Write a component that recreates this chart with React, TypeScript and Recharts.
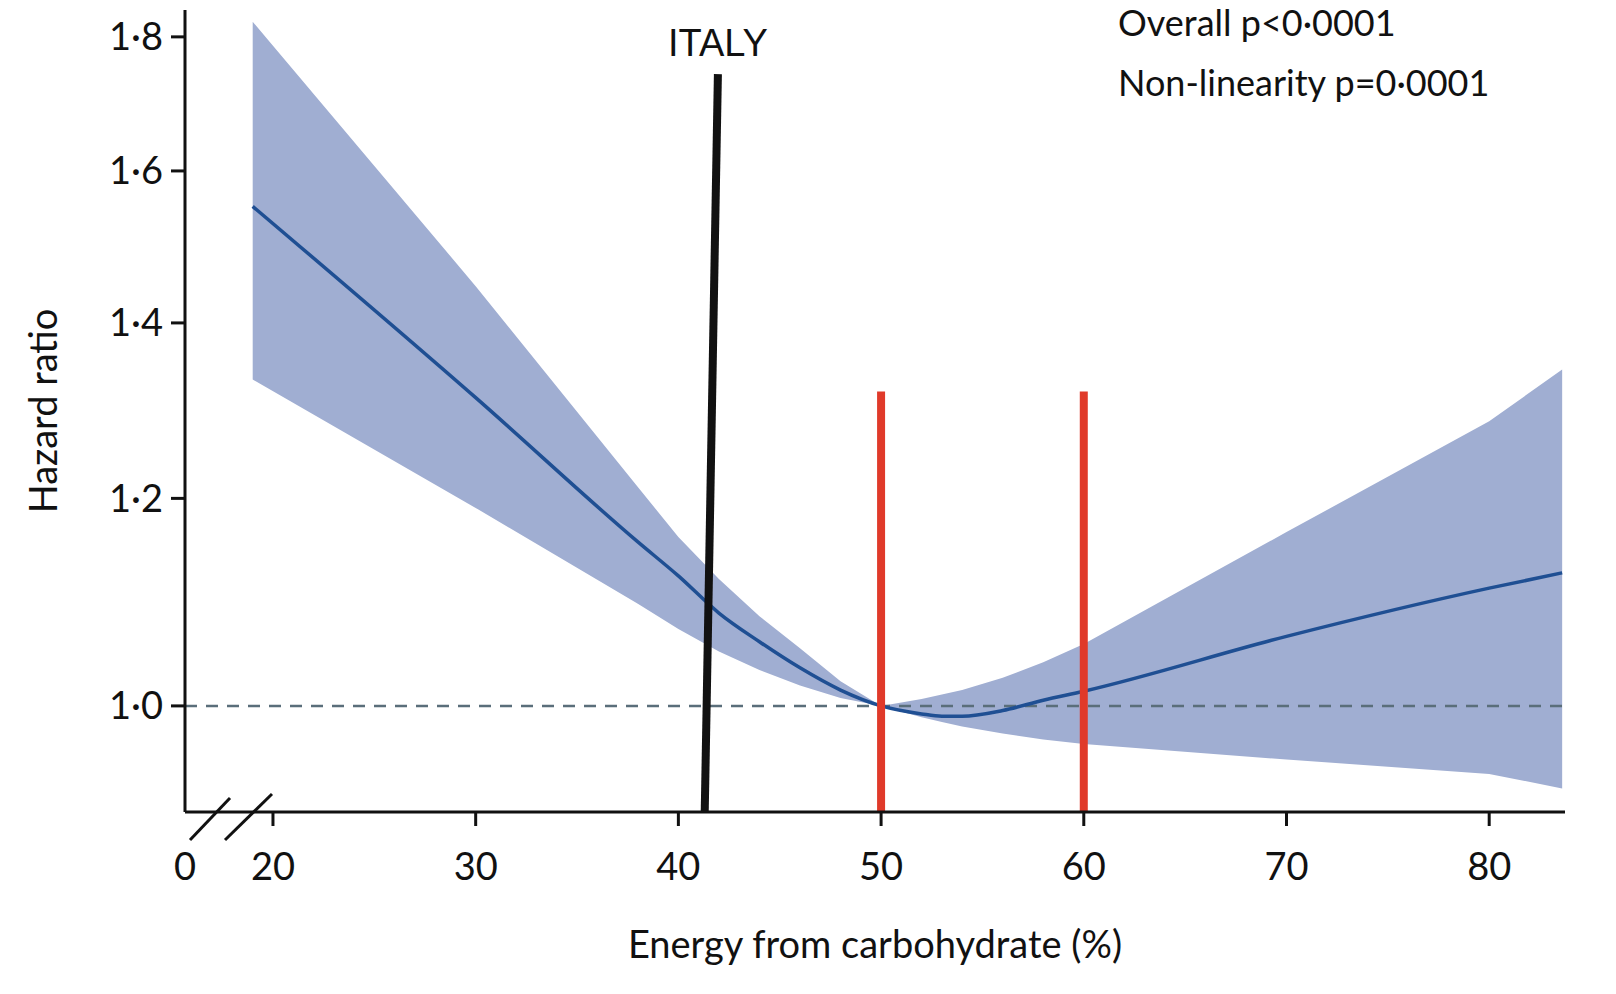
import React from 'react';
import { ComposedChart, Area, Line, XAxis, YAxis, ReferenceLine, Label } from 'recharts';

const carb = [19, 30, 38, 40, 42, 44, 46, 48, 50, 52, 53, 54, 56, 58, 60, 70, 80, 83.6];
const hr =   [1.551, 1.311, 1.155, 1.121, 1.085, 1.058, 1.034, 1.014, 1.0, 0.993, 0.991, 0.991, 0.996, 1.005, 1.013, 1.063, 1.109, 1.124];
const lo =   [1.332, 1.19, 1.094, 1.07, 1.049, 1.032, 1.018, 1.007, 1.0, 0.99, 0.986, 0.982, 0.976, 0.971, 0.967, 0.954, 0.942, 0.93];
const hi =   [1.824, 1.446, 1.212, 1.16, 1.118, 1.082, 1.052, 1.022, 1.0, 1.006, 1.01, 1.014, 1.025, 1.039, 1.056, 1.165, 1.284, 1.344];
const xTicks = [20, 30, 40, 50, 60, 70, 80];
const yTicks = [1.0, 1.2, 1.4, 1.6, 1.8];
const XMIN = 15.66, XMAX = 83.74, YMIN = 0.911, YMAX = 1.843;

const data = carb.map((c, i) => ({ c, hr: hr[i], band: [lo[i], hi[i]] }));
const FONT = 'Lato, "Open Sans", sans-serif';

const XTick = (p: any) => {
  const { x, y, payload } = p;
  if (payload.value === XMIN) {
    return (
      <g>
        <text x={x} y={y + 68} textAnchor="middle" fontSize={38} fontFamily={FONT} fill="#111">0</text>
        <line x1={x + 5} y1={y + 28} x2={x + 45} y2={y - 14} stroke="#111" strokeWidth={3} />
        <line x1={x + 40} y1={y + 28} x2={x + 87} y2={y - 18} stroke="#111" strokeWidth={3} />
      </g>
    );
  }
  return (
    <g>
      <line x1={x} y1={y} x2={x} y2={y + 14} stroke="#111" strokeWidth={3} />
      <text x={x} y={y + 68} textAnchor="middle" fontSize={38} fontFamily={FONT} fill="#111">{payload.value}</text>
    </g>
  );
};

export default function App() {
  return (
    <div style={{ position: 'absolute', left: 0, top: 0, background: '#fff' }}>
      <ComposedChart width={1616} height={994} data={data} margin={{ top: 10, right: 51, bottom: 0, left: 0 }}>
        <XAxis dataKey="c" type="number" domain={[XMIN, XMAX]} ticks={[XMIN, ...xTicks]} allowDataOverflow
          height={182} tickLine={false} tickSize={0} tickMargin={0} tick={<XTick />}
          axisLine={{ stroke: '#111', strokeWidth: 3 }}>
          <Label value="Energy from carbohydrate (%)" position="insideBottom" offset={36} fontSize={38} fontFamily={FONT} fill="#111" />
        </XAxis>
        <YAxis type="number" scale="log" domain={[YMIN, YMAX]} ticks={yTicks} allowDataOverflow width={185}
          tickFormatter={(v: number) => v.toFixed(1).replace('.', '·')}
          tick={{ fontSize: 38, fontFamily: FONT, fill: '#111' }} tickSize={14} tickMargin={8}
          tickLine={{ stroke: '#111', strokeWidth: 3 }} axisLine={{ stroke: '#111', strokeWidth: 3 }}>
          <Label value="Hazard ratio" angle={-90} position="insideLeft" offset={44} fontSize={38} fontFamily={FONT} fill="#111" style={{ textAnchor: 'middle' }} />
        </YAxis>
        <Area dataKey="band" type="linear" stroke="none" fill="#a0aed2" fillOpacity={1} isAnimationActive={false} />
        <ReferenceLine y={1} stroke="#5a6e7a" strokeWidth={2.5} strokeDasharray="12 9" />
        <Line dataKey="hr" type="monotone" stroke="#1f4f93" strokeWidth={3.5} dot={false} isAnimationActive={false} />
        <ReferenceLine segment={[{ x: 50, y: YMIN }, { x: 50, y: 1.318 }]} stroke="#e03a2a" strokeWidth={8} />
        <ReferenceLine segment={[{ x: 60, y: YMIN }, { x: 60, y: 1.318 }]} stroke="#e03a2a" strokeWidth={8} />
        <ReferenceLine segment={[{ x: 41.3, y: YMIN }, { x: 41.95, y: 1.742 }]} stroke="#111" strokeWidth={8} />
        <text x={718} y={56} textAnchor="middle" fontSize={38} fontFamily="Liberation Sans, Arial, sans-serif" fill="#111">ITALY</text>
        <text x={1118} y={36} fontSize={36} fontFamily={FONT} fill="#111">Overall p&lt;0·0001</text>
        <text x={1118} y={96} fontSize={36} fontFamily={FONT} fill="#111">Non-linearity p=0·0001</text>
      </ComposedChart>
    </div>
  );
}
